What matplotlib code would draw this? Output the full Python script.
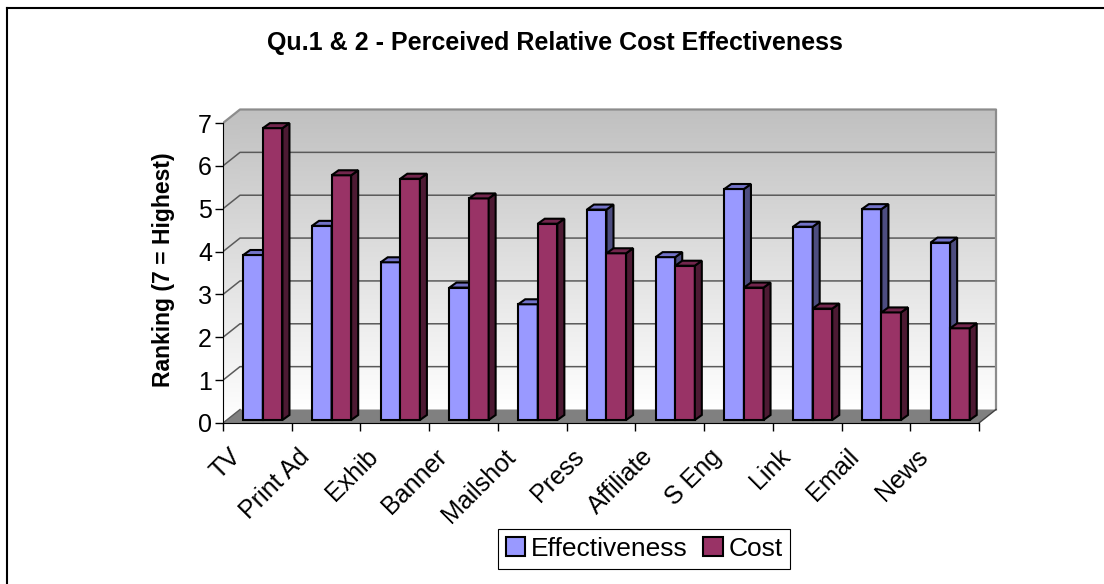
import matplotlib.pyplot as plt
import numpy as np
from matplotlib.patches import Polygon, Rectangle, Patch
from matplotlib.lines import Line2D

plt.rcParams['font.family'] = ['Liberation Sans', 'DejaVu Sans']

cats = ['TV', 'Print Ad', 'Exhib', 'Banner', 'Mailshot', 'Press',
        'Affiliate', 'S Eng', 'Link', 'Email', 'News']
eff = [3.85, 4.53, 3.68, 3.09, 2.70, 4.91, 3.80, 5.39, 4.51, 4.92, 4.14]
cost = [6.81, 5.71, 5.63, 5.17, 4.58, 3.89, 3.60, 3.09, 2.60, 2.51, 2.14]
series = ['Effectiveness', 'Cost']
yticks = list(range(8))

W, H = 1104, 584
CW = 756 / 11      # px per category
UH = 300 / 7       # px per unit
KX, KY = 1 / CW, 1 / UH

fig = plt.figure(figsize=(W / 100, H / 100), dpi=100)
ax = fig.add_axes([223 / W, (H - 423) / H, 11.5 * CW / W, 7.5 * UH / H])

# wall depth and bar depth (in px, converted)
dxw, dyw = 17 * KX, 13.5 * KY
dxb, dyb = 7 * KX, 5 * KY
base = 3 * KY

# back wall + left wall gradient
g = np.linspace(1.0, 0.753, 200)[:, None]
grad = np.dstack([g, g, g])
ax.imshow(grad, extent=[dxw, 11 + dxw, dyw, 7 + dyw], origin='lower',
          aspect='auto', zorder=0, interpolation='bilinear')
im2 = ax.imshow(grad, extent=[0, dxw, 0, 7 + dyw], origin='lower',
                aspect='auto', zorder=0, interpolation='bilinear')
lw_poly = Polygon([(0, 0), (dxw, dyw), (dxw, 7 + dyw), (0, 7)], closed=True,
                  transform=ax.transData)
im2.set_clip_path(lw_poly)
ax.set_xlim(0, 11.5)
ax.set_ylim(0, 7.5)

# gridlines
for v in yticks[1:7]:
    ax.plot([0, dxw, 11 + dxw], [v, v + dyw, v + dyw], color='#5a5a5a', lw=1.1, zorder=1)
ax.plot([0, dxw, 11 + dxw, 11 + dxw], [7, 7 + dyw, 7 + dyw, dyw],
        color='#8c8c8c', lw=1.6, zorder=1)

# floor
ax.add_patch(Polygon([(0, 0), (11, 0), (11 + dxw, dyw), (dxw, dyw)], closed=True,
                     facecolor='#808080', edgecolor='none', zorder=1))
ax.plot([0, dxw], [0, dyw], color='#5a5a5a', lw=1.0, zorder=1)
ax.plot([11, 11 + dxw], [0, dyw], color='#404040', lw=1.0, zorder=1)

faces = [('#9999ff', '#4d4d80', '#7373c8'), ('#993366', '#4d1a33', '#73264d')]
bw = 0.285


def bar3d(x0, h, cols, z):
    f, s, t = cols
    b = base
    ax.add_patch(Rectangle((x0, b), bw, h, facecolor=f, edgecolor='black', lw=1.5, zorder=z))
    ax.add_patch(Polygon([(x0 + bw, b), (x0 + bw + dxb, b + dyb), (x0 + bw + dxb, b + h + dyb),
                          (x0 + bw, b + h)], closed=True, facecolor=s, edgecolor='black',
                         lw=1.5, zorder=z))
    ax.add_patch(Polygon([(x0, b + h), (x0 + bw, b + h), (x0 + bw + dxb, b + h + dyb),
                          (x0 + dxb, b + h + dyb)], closed=True, facecolor=t,
                         edgecolor='black', lw=1.5, zorder=z))


z = 3
for i in range(len(cats)):
    bar3d(i + 0.295, eff[i], faces[0], z)
    bar3d(i + 0.295 + bw, cost[i], faces[1], z + 1)
    z += 2

# axes
for s in ['top', 'right']:
    ax.spines[s].set_visible(False)
ax.spines['left'].set_bounds(0, 7)
ax.spines['bottom'].set_bounds(0, 11)
ax.spines['left'].set_zorder(50)
ax.spines['bottom'].set_zorder(50)
ax.set_yticks(yticks)
ax.set_yticklabels([str(v) for v in yticks], fontsize=18)
ax.set_xticks(np.arange(12))
ax.set_xticklabels([])
ax.tick_params(axis='y', length=6, width=1, pad=2)
ax.tick_params(axis='x', length=6, width=1)

for i, c in enumerate(cats):
    ax.text(i + 0.325, -0.5, c, rotation=45, ha='right', va='top', fontsize=18)

ax.set_ylabel('Ranking (7 = Highest)', fontsize=16.5, fontweight='bold')
ax.yaxis.set_label_coords((175 - 223) / (11.5 * CW), (423 - 270) / (7.5 * UH))

fig.text(555 / W, 1 - 43 / H, 'Qu.1 & 2 - Perceived Relative Cost Effectiveness',
         ha='center', va='center', fontsize=18, fontweight='bold')

handles = [Patch(facecolor=faces[k][0], edgecolor='black', lw=1.5, label=series[k])
           for k in range(2)]
leg = fig.legend(handles=handles, loc='center', bbox_to_anchor=(644 / W, 1 - 549 / H),
                 ncol=2, fontsize=19, handlelength=0.75, handleheight=0.75,
                 handletextpad=0.2, columnspacing=0.6, borderpad=0.3,
                 fancybox=False, edgecolor='black', framealpha=1)
leg.get_frame().set_linewidth(0.8)

# chart border (left and top visible)
fig.add_artist(Line2D([7 / W, 7 / W], [0, 1 - 8 / H], color='black', lw=1.5))
fig.add_artist(Line2D([7 / W, 1], [1 - 8 / H, 1 - 8 / H], color='black', lw=1.5))

fig.savefig('out.png', dpi=100)
